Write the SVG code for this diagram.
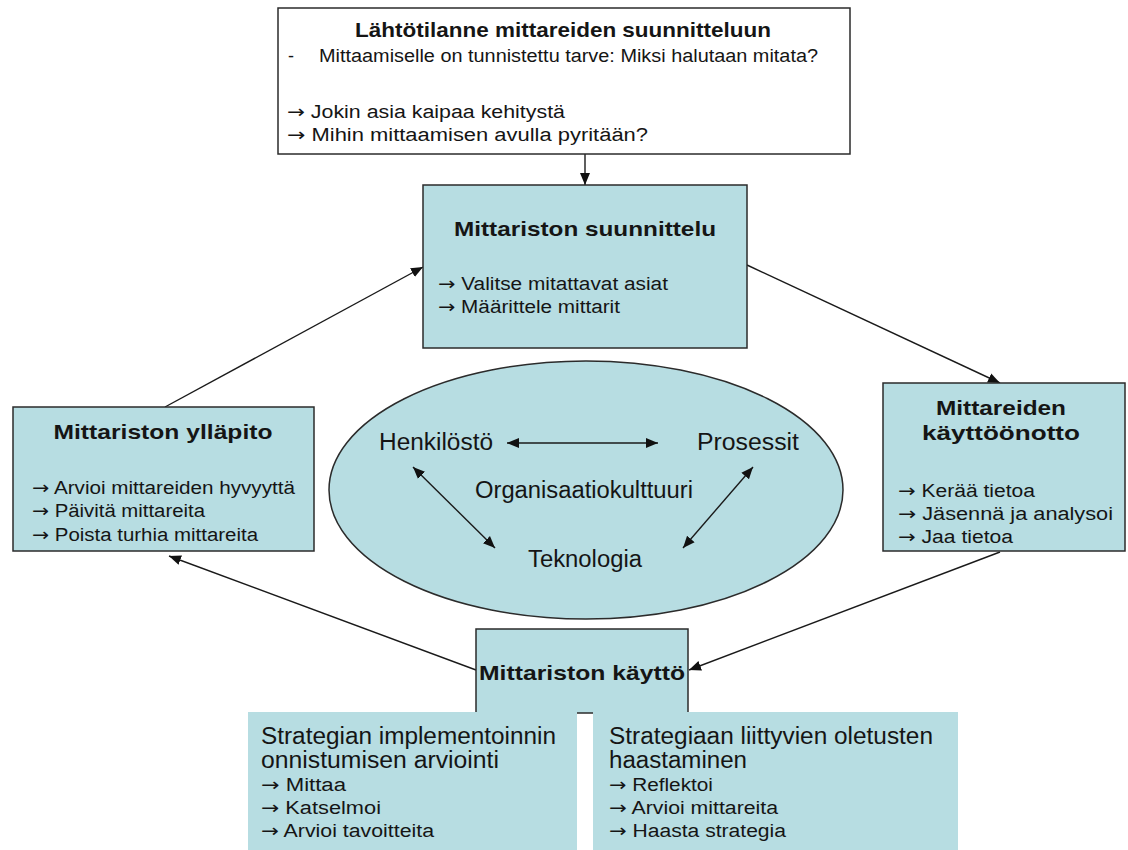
<svg xmlns="http://www.w3.org/2000/svg" width="1128" height="850" viewBox="0 0 1128 850">
  <style>
    .box { fill: #b7dde2; stroke: #2b2b2b; stroke-width: 1.5; }
    .plain { fill: #ffffff; stroke: #2b2b2b; stroke-width: 1.5; }
    .flat { fill: #b7dde2; stroke: none; }
    .t { font-family: "Liberation Sans", Arial, sans-serif; fill: #151515; }
    .h { font-weight: bold; font-size: 21px; }
    .b { font-size: 18px; }
    .e { font-size: 23px; }
    .n { font-size: 23.5px; }
    .ns { font-size: 18px; }
    .c { text-anchor: middle; }
    .ar { font-family: "DejaVu Sans", sans-serif; }
    .link { stroke: #1a1a1a; stroke-width: 1.4; fill: none; }
  </style>
  <defs>
    <marker id="arrow" markerUnits="userSpaceOnUse" markerWidth="14" markerHeight="12" refX="12" refY="6" orient="auto-start-reverse">
      <path d="M0,1 L12,6 L0,11 Z" fill="#111"/>
    </marker>
  </defs>

  <rect width="1128" height="850" fill="#ffffff"/>

  <!-- connectors -->
  <g id="connectors">
    <line class="link" x1="585" y1="154" x2="585" y2="185" marker-end="url(#arrow)"/>
    <line class="link" x1="747" y1="265" x2="1000" y2="383" marker-end="url(#arrow)"/>
    <line class="link" x1="1000" y1="552" x2="689" y2="670" marker-end="url(#arrow)"/>
    <line class="link" x1="476" y1="670" x2="169" y2="556" marker-end="url(#arrow)"/>
    <line class="link" x1="165" y1="407" x2="423" y2="267" marker-end="url(#arrow)"/>
  </g>

  <!-- starting point -->
  <g id="start">
    <rect class="plain" x="278" y="8" width="572" height="146"/>
    <text class="t h c" x="563" y="37" textLength="416" lengthAdjust="spacingAndGlyphs">Lähtötilanne mittareiden suunnitteluun</text>
    <text class="t b" x="288" y="62">-</text>
    <text class="t b" x="319" y="62" textLength="499" lengthAdjust="spacingAndGlyphs">Mittaamiselle on tunnistettu tarve:  Miksi halutaan mitata?</text>
    <text class="t b" x="287" y="118" textLength="278" lengthAdjust="spacingAndGlyphs"><tspan class="ar">→</tspan> Jokin asia kaipaa kehitystä</text>
    <text class="t b" x="287" y="141" textLength="361" lengthAdjust="spacingAndGlyphs"><tspan class="ar">→</tspan> Mihin mittaamisen avulla pyritään?</text>
  </g>

  <!-- design -->
  <g id="design">
    <rect class="box" x="423" y="185" width="324" height="163"/>
    <text class="t h c" x="585" y="236" textLength="262" lengthAdjust="spacingAndGlyphs">Mittariston suunnittelu</text>
    <text class="t b" x="438" y="290" textLength="230" lengthAdjust="spacingAndGlyphs"><tspan class="ar">→</tspan> Valitse mitattavat asiat</text>
    <text class="t b" x="438" y="313" textLength="182" lengthAdjust="spacingAndGlyphs"><tspan class="ar">→</tspan> Määrittele mittarit</text>
  </g>

  <!-- deployment -->
  <g id="deployment">
    <rect class="box" x="883" y="383" width="242" height="168"/>
    <text class="t h c" x="1001" y="415" textLength="130" lengthAdjust="spacingAndGlyphs">Mittareiden</text>
    <text class="t h c" x="1001" y="440" textLength="158" lengthAdjust="spacingAndGlyphs">käyttöönotto</text>
    <text class="t b" x="898" y="497" textLength="137" lengthAdjust="spacingAndGlyphs"><tspan class="ar">→</tspan> Kerää tietoa</text>
    <text class="t b" x="898" y="520" textLength="215" lengthAdjust="spacingAndGlyphs"><tspan class="ar">→</tspan> Jäsennä ja analysoi</text>
    <text class="t b" x="898" y="543" textLength="115" lengthAdjust="spacingAndGlyphs"><tspan class="ar">→</tspan> Jaa tietoa</text>
  </g>

  <!-- maintenance -->
  <g id="maintenance">
    <rect class="box" x="13" y="407" width="301" height="144"/>
    <text class="t h c" x="163" y="439" textLength="219" lengthAdjust="spacingAndGlyphs">Mittariston ylläpito</text>
    <text class="t b" x="32" y="494" textLength="263" lengthAdjust="spacingAndGlyphs"><tspan class="ar">→</tspan> Arvioi mittareiden hyvyyttä</text>
    <text class="t b" x="32" y="517" textLength="173" lengthAdjust="spacingAndGlyphs"><tspan class="ar">→</tspan> Päivitä mittareita</text>
    <text class="t b" x="32" y="541" textLength="226" lengthAdjust="spacingAndGlyphs"><tspan class="ar">→</tspan> Poista turhia mittareita</text>
  </g>

  <!-- organisational culture -->
  <g id="culture">
    <ellipse class="box" cx="586" cy="490" rx="257" ry="129"/>
    <text class="t e" x="379" y="450" textLength="114" lengthAdjust="spacingAndGlyphs">Henkilöstö</text>
    <text class="t e" x="697" y="450" textLength="102" lengthAdjust="spacingAndGlyphs">Prosessit</text>
    <text class="t e" x="475" y="498" textLength="218" lengthAdjust="spacingAndGlyphs">Organisaatiokulttuuri</text>
    <text class="t e" x="528" y="567" textLength="114" lengthAdjust="spacingAndGlyphs">Teknologia</text>
    <line class="link" x1="507" y1="443" x2="658" y2="443" marker-start="url(#arrow)" marker-end="url(#arrow)"/>
    <line class="link" x1="413" y1="467" x2="495" y2="548" marker-start="url(#arrow)" marker-end="url(#arrow)"/>
    <line class="link" x1="753" y1="467" x2="683" y2="548" marker-start="url(#arrow)" marker-end="url(#arrow)"/>
  </g>

  <!-- usage -->
  <g id="usage">
    <rect class="box" x="476" y="629" width="212" height="84"/>
    <text class="t h" x="479" y="680" textLength="206" lengthAdjust="spacingAndGlyphs">Mittariston käyttö</text>
  </g>

  <!-- implementation evaluation -->
  <g id="evaluation">
    <rect class="flat" x="248" y="712" width="329" height="138"/>
    <text class="t n" x="261" y="744" textLength="295" lengthAdjust="spacingAndGlyphs">Strategian implementoinnin</text>
    <text class="t n" x="261" y="768" textLength="238" lengthAdjust="spacingAndGlyphs">onnistumisen arviointi</text>
    <text class="t ns" x="261" y="791" textLength="85" lengthAdjust="spacingAndGlyphs"><tspan class="ar">→</tspan> Mittaa</text>
    <text class="t ns" x="261" y="814" textLength="120" lengthAdjust="spacingAndGlyphs"><tspan class="ar">→</tspan> Katselmoi</text>
    <text class="t ns" x="261" y="837" textLength="173" lengthAdjust="spacingAndGlyphs"><tspan class="ar">→</tspan> Arvioi tavoitteita</text>
  </g>

  <!-- challenging assumptions -->
  <g id="challenge">
    <rect class="flat" x="593" y="712" width="365" height="138"/>
    <text class="t n" x="609" y="744" textLength="324" lengthAdjust="spacingAndGlyphs">Strategiaan liittyvien oletusten</text>
    <text class="t n" x="609" y="768" textLength="138" lengthAdjust="spacingAndGlyphs">haastaminen</text>
    <text class="t ns" x="609" y="791" textLength="104" lengthAdjust="spacingAndGlyphs"><tspan class="ar">→</tspan> Reflektoi</text>
    <text class="t ns" x="609" y="814" textLength="169" lengthAdjust="spacingAndGlyphs"><tspan class="ar">→</tspan> Arvioi mittareita</text>
    <text class="t ns" x="609" y="837" textLength="177" lengthAdjust="spacingAndGlyphs"><tspan class="ar">→</tspan> Haasta strategia</text>
  </g>
</svg>
